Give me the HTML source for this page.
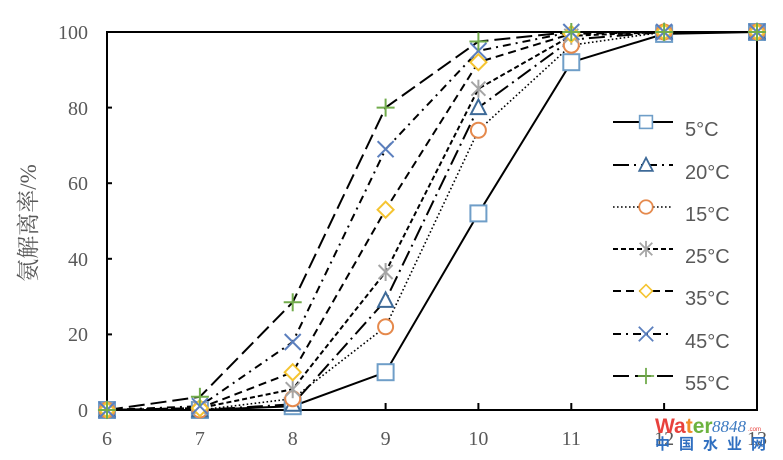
<!DOCTYPE html>
<html><head><meta charset="utf-8"><style>
html,body{margin:0;padding:0;background:#fff;}
svg{display:block;}
</style></head><body>
<svg width="783" height="460" viewBox="0 0 783 460" xmlns="http://www.w3.org/2000/svg">
<rect width="783" height="460" fill="#fff"/>
<!-- plot frame -->
<g stroke="#000" stroke-width="2" fill="none">
<rect x="107" y="32" width="650" height="378"/>
<!-- y ticks -->
<line x1="107" y1="334.4" x2="112" y2="334.4"/>
<line x1="107" y1="258.8" x2="112" y2="258.8"/>
<line x1="107" y1="183.2" x2="112" y2="183.2"/>
<line x1="107" y1="107.6" x2="112" y2="107.6"/>
<!-- x ticks -->
<line x1="199.9" y1="410" x2="199.9" y2="403"/>
<line x1="292.7" y1="410" x2="292.7" y2="403"/>
<line x1="385.6" y1="410" x2="385.6" y2="403"/>
<line x1="478.4" y1="410" x2="478.4" y2="403"/>
<line x1="571.3" y1="410" x2="571.3" y2="403"/>
<line x1="664.1" y1="410" x2="664.1" y2="403"/>
</g>
<!-- tick labels -->
<g font-family="Liberation Serif, serif" font-size="20" fill="#595959" text-anchor="end">
<text x="88" y="417">0</text>
<text x="88" y="341">20</text>
<text x="88" y="266">40</text>
<text x="88" y="190">60</text>
<text x="88" y="115">80</text>
<text x="88" y="39">100</text>
</g>
<g font-family="Liberation Serif, serif" font-size="20" fill="#595959" text-anchor="middle">
<text x="107" y="445">6</text>
<text x="199.9" y="445">7</text>
<text x="292.7" y="445">8</text>
<text x="385.6" y="445">9</text>
<text x="478.4" y="445">10</text>
<text x="571.3" y="445">11</text>
<text x="664.1" y="445">12</text>
<text x="757" y="445">13</text>
</g>
<text transform="translate(36,223) rotate(-90)" font-family="Liberation Serif, 'Noto Serif CJK SC', serif" font-size="23" fill="#595959" text-anchor="middle">氨解离率/%</text>

<!-- series lines -->
<g fill="none" stroke="#000" stroke-width="2">
<polyline points="107,410 199.9,410 292.7,406.2 385.6,372.2 478.4,213.4 571.3,62.2 664.1,33.9 757,32"/>
<polyline stroke-dasharray="16,5,2,5" points="107,410 199.9,410 292.7,404.3 385.6,300.4 478.4,107.6 571.3,39.6 664.1,32 757,32"/>
<polyline stroke-width="1.6" stroke-dasharray="1.6,2.4" points="107,410 199.9,410 292.7,398.7 385.6,326.8 478.4,130.3 571.3,45.2 664.1,32 757,32"/>
<polyline stroke-dasharray="5,3" points="107,410 199.9,408.1 292.7,389.2 385.6,272 478.4,88.7 571.3,35.8 664.1,32 757,32"/>
<polyline stroke-dasharray="8,5" points="107,410 199.9,408.1 292.7,372.2 385.6,209.7 478.4,62.2 571.3,33.9 664.1,32 757,32"/>
<polyline stroke-dasharray="8,5,2,5" points="107,410 199.9,406.2 292.7,342 385.6,149.2 478.4,50.9 571.3,32 664.1,32 757,32"/>
<polyline stroke-dasharray="16,6" points="107,410 199.9,396.8 292.7,302.3 385.6,107.6 478.4,41.5 571.3,32 664.1,32 757,32"/>
</g>

<defs>
<g id="msq"><rect x="-8" y="-8" width="16" height="16" fill="#fff" stroke="#6f9ec8" stroke-width="2"/></g>
<g id="mtri"><polygon points="0,-8 7.5,6.5 -7.5,6.5" fill="#fff" stroke="#3e6a98" stroke-width="2"/></g>
<g id="mcir"><circle r="7.5" fill="#fff" stroke="#e5894c" stroke-width="2"/></g>
<g id="mstar" stroke="#a5a5a5" stroke-width="2"><line x1="-7" y1="-7" x2="7" y2="7"/><line x1="-7" y1="7" x2="7" y2="-7"/><line x1="0" y1="-9" x2="0" y2="9"/></g>
<g id="mdia"><polygon points="0,-8 8,0 0,8 -8,0" fill="#fff" stroke="#f5c431" stroke-width="2"/></g>
<g id="mx" stroke="#5b7fbe" stroke-width="2"><line x1="-8" y1="-8" x2="8" y2="8"/><line x1="-8" y1="8" x2="8" y2="-8"/></g>
<g id="mplus" stroke="#72ac4c" stroke-width="2"><line x1="-9" y1="0" x2="9" y2="0"/><line x1="0" y1="-9" x2="0" y2="9"/></g>
</defs>

<!-- markers -->
<g>
<use href="#msq" x="107" y="410"/><use href="#msq" x="199.9" y="410"/><use href="#msq" x="292.7" y="406.2"/><use href="#msq" x="385.6" y="372.2"/><use href="#msq" x="478.4" y="213.4"/><use href="#msq" x="571.3" y="62.2"/><use href="#msq" x="664.1" y="33.9"/><use href="#msq" x="757" y="32"/>
<use href="#mtri" x="107" y="410"/><use href="#mtri" x="199.9" y="410"/><use href="#mtri" x="292.7" y="404.3"/><use href="#mtri" x="385.6" y="300.4"/><use href="#mtri" x="478.4" y="107.6"/><use href="#mtri" x="571.3" y="39.6"/><use href="#mtri" x="664.1" y="32"/><use href="#mtri" x="757" y="32"/>
<use href="#mcir" x="107" y="410"/><use href="#mcir" x="199.9" y="410"/><use href="#mcir" x="292.7" y="398.7"/><use href="#mcir" x="385.6" y="326.8"/><use href="#mcir" x="478.4" y="130.3"/><use href="#mcir" x="571.3" y="45.2"/><use href="#mcir" x="664.1" y="32"/><use href="#mcir" x="757" y="32"/>
<use href="#mstar" x="107" y="410"/><use href="#mstar" x="199.9" y="408.1"/><use href="#mstar" x="292.7" y="389.2"/><use href="#mstar" x="385.6" y="272"/><use href="#mstar" x="478.4" y="88.7"/><use href="#mstar" x="571.3" y="35.8"/><use href="#mstar" x="664.1" y="32"/><use href="#mstar" x="757" y="32"/>
<use href="#mdia" x="107" y="410"/><use href="#mdia" x="199.9" y="408.1"/><use href="#mdia" x="292.7" y="372.2"/><use href="#mdia" x="385.6" y="209.7"/><use href="#mdia" x="478.4" y="62.2"/><use href="#mdia" x="571.3" y="33.9"/><use href="#mdia" x="664.1" y="32"/><use href="#mdia" x="757" y="32"/>
<use href="#mx" x="107" y="410"/><use href="#mx" x="199.9" y="406.2"/><use href="#mx" x="292.7" y="342"/><use href="#mx" x="385.6" y="149.2"/><use href="#mx" x="478.4" y="50.9"/><use href="#mx" x="571.3" y="32"/><use href="#mx" x="664.1" y="32"/><use href="#mx" x="757" y="32"/>
<use href="#mplus" x="107" y="410"/><use href="#mplus" x="199.9" y="396.8"/><use href="#mplus" x="292.7" y="302.3"/><use href="#mplus" x="385.6" y="107.6"/><use href="#mplus" x="478.4" y="41.5"/><use href="#mplus" x="571.3" y="32"/><use href="#mplus" x="664.1" y="32"/><use href="#mplus" x="757" y="32"/>
</g>

<!-- legend -->
<g fill="none" stroke="#000" stroke-width="2">
<line x1="613" y1="122" x2="673" y2="122"/>
<line x1="613" y1="165" x2="673" y2="165" stroke-dasharray="16,5,2,5"/>
<line x1="613" y1="207" x2="673" y2="207" stroke-width="1.6" stroke-dasharray="1.6,2.4"/>
<line x1="613" y1="249" x2="673" y2="249" stroke-dasharray="5,3"/>
<line x1="613" y1="291" x2="673" y2="291" stroke-dasharray="8,5"/>
<line x1="613" y1="334" x2="673" y2="334" stroke-dasharray="8,5,2,5"/>
<line x1="613" y1="376" x2="673" y2="376" stroke-dasharray="16,6"/>
</g>
<use href="#msq" x="646" y="122" transform="translate(646,122) scale(0.8) translate(-646,-122)"/>
<use href="#mtri" x="646" y="165" transform="translate(646,165) scale(0.9) translate(-646,-165)"/>
<use href="#mcir" x="646" y="207" transform="translate(646,207) scale(0.9) translate(-646,-207)"/>
<use href="#mstar" x="646" y="249" transform="translate(646,249) scale(0.9) translate(-646,-249)"/>
<use href="#mdia" x="646" y="291" transform="translate(646,291) scale(0.8) translate(-646,-291)"/>
<use href="#mx" x="646" y="334" transform="translate(646,334) scale(0.9) translate(-646,-334)"/>
<use href="#mplus" x="646" y="376" transform="translate(646,376) scale(0.9) translate(-646,-376)"/>
<g font-family="Liberation Sans, sans-serif" font-size="20" fill="#595959">
<text x="685" y="136">5°C</text>
<text x="685" y="179">20°C</text>
<text x="685" y="221">15°C</text>
<text x="685" y="263">25°C</text>
<text x="685" y="305">35°C</text>
<text x="685" y="348">45°C</text>
<text x="685" y="390">55°C</text>
</g>

<!-- watermark -->
<g font-family="Liberation Sans, sans-serif" font-weight="bold" font-size="21">
<text x="655" y="433"><tspan fill="#e8413c">Wa</tspan><tspan fill="#f08c28">t</tspan><tspan fill="#6cb33f">er</tspan></text>
</g>
<text x="712" y="432" font-family="Liberation Serif, serif" font-style="italic" font-size="17" fill="#3a78c0">8848</text>
<text x="748" y="431" font-family="Liberation Sans, sans-serif" font-size="6" fill="#e8413c">.com</text>
<text x="655" y="449" font-family="Liberation Sans, 'Noto Sans CJK SC', sans-serif" font-weight="bold" font-size="15" fill="#2f6fc0" letter-spacing="9">中国水业网</text>
</svg>
</body></html>
